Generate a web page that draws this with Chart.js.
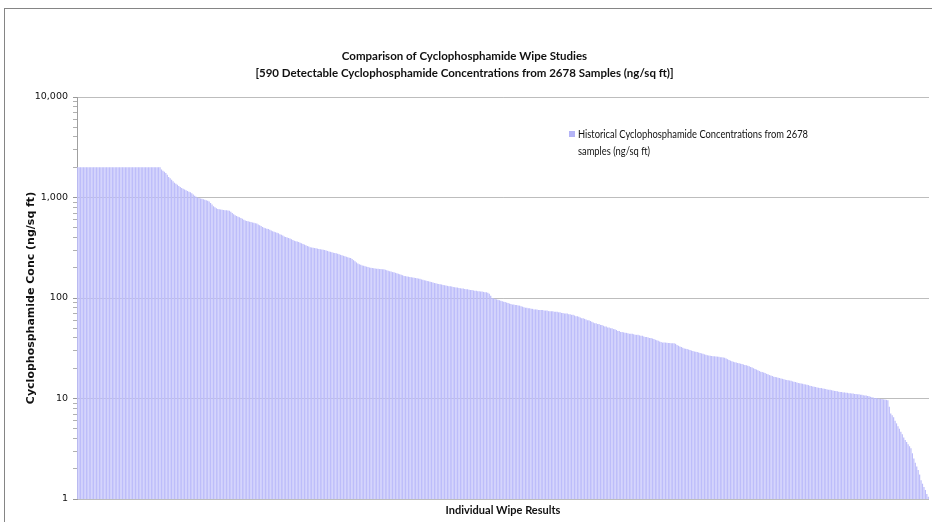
<!DOCTYPE html>
<html><head><meta charset="utf-8">
<script src="https://cdn.jsdelivr.net/npm/chart.js@4.4.1/dist/chart.umd.min.js"></script>
<style>
html,body{margin:0;padding:0;background:#fff;overflow:hidden;}
#wrap{position:relative;width:932px;height:522px;}
#frame{position:absolute;left:4px;top:8px;width:1000px;height:600px;border-left:1px solid #858585;border-top:1px solid #858585;pointer-events:none;}
canvas{position:absolute;left:0;top:0;}
</style></head><body>
<div id="wrap"><canvas id="c" width="932" height="522"></canvas><div id="frame"></div></div>
<script>
// ---- data ----
const titleLines = ['Comparison of Cyclophosphamide Wipe Studies', '[590 Detectable Cyclophosphamide Concentrations from 2678 Samples (ng/sq ft)]'];
const legendLines = ['Historical Cyclophosphamide Concentrations from 2678', 'samples (ng/sq ft)'];
const seriesName = legendLines.join(' ');
const xTitle = 'Individual Wipe Results';
const yTitle = 'Cyclophosphamide Conc (ng/sq ft)';
const tickValues = [1, 10, 100, 1000, 10000];
const tickLabels = ['1', '10', '100', '1,000', '10,000'];
const values = [
2000,2000,2000,2000,2000,2000,2000,2000,2000,2000,
2000,2000,2000,2000,2000,2000,2000,2000,2000,2000,
2000,2000,2000,2000,2000,2000,2000,2000,2000,2000,
2000,2000,2000,2000,2000,2000,2000,2000,2000,2000,
2000,2000,2000,2000,2000,2000,2000,2000,2000,2000,
2000,2000,2000,2000,2000,2000,2000,2000,
1900,1850,1800, 1750,1680,1600, 1550,1500,1450,1400, 1370,1340,1300,1270,1240,
1220,1200,1180,1160,1140, 1130,1100,1070,1040,1020, 1000,990,980,970,960,950,940,
930,910,880,850,820,800,780, 770,765,760,755,750,748,745,742, 740,720,700,680,665,655,
645,635,625,615,600,590,585, 580,575,570,565,560,555, 550,540,530,520,510,500,495,
490,485,478,470,462,455,450, 445,440,432,425,418,410,405, 400,395,390,385,378,372,368,
365,360,355,350,345,340,335,330,325, 320,318,316,314,312,310,308,306,304,302,
300,297,294,291,288,285,282,280,278, 275,272,269,266,263,260,257,254,252,
250,245,238,232,226, 220,217,214,211,209,207,205,203,201, 200,199,198,197,196,195,194,194,193,
193,191,189,187,185,183,181, 180,178,176,174,172,170,168, 166,165,164,163,162,161,160,159,158,
157,156,155,153,152,150,149, 148,147,145,144,143,141,140, 139,138,137,136,135,134,133,132,131,
131,130,129,128,127,127,126,125,124,124, 123,122,122,121,120,120,119,118,118,
117,117,116,116,115,114,114, 113,110,105, 100,99,98,97,96,95, 94,93,92,91,90,89,88,
87,86,86,85,85,84,84, 83,82,81,80,80,79,79, 78,78,77,77,77,76,76, 76,76,75,75,75,74,74,
74,74,73,73,73,72,72,71,71,70,70,70,69, 69,68,68,67,66,66,65,64,63,63,
62,61,60,60,59,58,57,56,56, 55,55,54,54,53,52,52,51,51, 50,50,49,49,48,47,47,46,46,
45.5,45,45,44.5,44,44,44,43.5,43,43, 43,42.5,42,42,41.5,41,41,40.5,40,
40,39.5,39,38.5,38,37.5,37,36.5,36, 36,36,35.8,35.7,35.6,35.5,35.5, 35.5,35,34,33.5,33,32.5,32,
31.5,31.2,31,30.7,30.4,30,29.7,29.4,29.2, 29,28.7,28.4,28.1,27.8,27.5,27.2,27,26.8,
26.6,26.5,26.4,26.3,26.2,26.1,26,25.8,25.7,25.6, 25.5,25,24.6,24.2,23.8,23.5,23.2,
23,22.8,22.6,22.4,22.2,22,21.8,21.6,21.4, 21.2,20.9,20.6,20.3,20,19.7,19.4,19.1,18.8,
18.5,18.3,18.1,17.9,17.6,17.4,17.1,16.9,16.7, 16.5,16.4,16.3,16.1,16,15.8,15.7,15.5,15.4,
15.3,15.2,15.1,15,14.8,14.7,14.6,14.4,14.3,14.2, 14.1,14,13.9,13.8,13.7,13.6,13.4,13.3,13.2,
13.1,13,12.9,12.8,12.7,12.7,12.6,12.5,12.4, 12.3,12.2,12.2,12.1,12,11.9,11.9,11.8,11.7,
11.6,11.6,11.5,11.5,11.4,11.4,11.3,11.3,11.2,11.2, 11.1,11.1,11,11,10.9,10.9,10.8,10.7,10.7,
10.6,10.5,10.4,10.3,10.2,10.1,10.1, 10,10,9.9,9.9,9.8,9.8,9.7,
9.6,8.3, 7.1,6.8, 6.5,6, 5.66,5.3,5, 4.67,4.4,4.1, 3.86,3.7,3.5,3.35, 3.2,2.85,
2.53,2.3,2.1, 1.94,1.75, 1.54,1.42,1.32, 1.23,1.12, 1.05
];
const categories = values.map((_, i) => String(i + 1));

// ---- styles ----
const barColor = '#bdbdfa';
const gridColor = 'rgba(0,0,0,0.26)';

const legendPlugin = {
  id: 'boxLegend',
  afterDraw(chart) {
    const ctx = chart.ctx;
    ctx.save();
    ctx.fillStyle = '#b4b4f6';
    ctx.fillRect(569, 131, 6, 6);
    ctx.fillStyle = '#111';
    ctx.font = '11px Lato';
    ctx.textBaseline = 'middle';
    const w = ctx.measureText(legendLines[0]).width;
    const sx = 230 / w;
    ctx.translate(578, 0);
    ctx.scale(sx, 1);
    legendLines.forEach((t, i) => ctx.fillText(t, 0, 134 + i * 17));
    ctx.restore();
  }
};

new Chart(document.getElementById('c'), {
  type: 'bar',
  data: {
    labels: categories,
    datasets: [{
      label: seriesName,
      data: values,
      backgroundColor: barColor,
      borderWidth: 0,
      barPercentage: 0.85,
      categoryPercentage: 1
    }]
  },
  options: {
    responsive: false,
    animation: false,
    layout: { padding: { top: 0, right: 3, bottom: 0, left: 0 } },
    plugins: {
      legend: { display: false },
      tooltip: { enabled: false },
      title: {
        display: true,
        text: titleLines,
        color: '#111',
        font: { family: 'Lato', weight: 'bold', size: 11.5, lineHeight: '17px' },
        padding: { top: 48, bottom: 15 }
      }
    },
    scales: {
      x: {
        grid: { display: false },
        ticks: { display: false },
        border: { display: false },
        title: {
          display: true, text: xTitle, color: '#111',
          font: { family: 'Lato', weight: 'bold', size: 11 },
          padding: { top: 0, bottom: 5 }
        },
        afterFit: s => { s.height = 23; }
      },
      y: {
        type: 'logarithmic',
        min: 1, max: 10000,
        z: 1,
        afterBuildTicks: s => {
          const t = [];
          for (let j = 0; j < tickValues.length - 1; j++) {
            for (let k = 1; k < 10; k++) t.push({ value: k * tickValues[j] });
          }
          t.push({ value: tickValues[tickValues.length - 1] });
          s.ticks = t;
        },
        ticks: {
          autoSkip: false,
          padding: 5,
          color: '#111',
          font: { family: 'DejaVu Sans', size: 9.5 },
          callback: v => { const i = tickValues.indexOf(v); return i >= 0 ? tickLabels[i] : ''; }
        },
        grid: {
          color: c => (c.tick && tickValues.includes(c.tick.value)) ? gridColor : 'rgba(0,0,0,0)',
          tickColor: c => (c.tick && tickValues.includes(c.tick.value)) ? '#999' : '#b0b0b0',
          tickLength: 4,
          drawTicks: true
        },
        border: { color: '#a0a0a0' },
        title: {
          display: true, text: yTitle, color: '#111',
          font: { family: 'DejaVu Sans', weight: 'bold', size: 11 },
          padding: { top: 25, bottom: 0 }
        },
        afterFit: s => { s.width = 77; }
      }
    }
  },
  plugins: [legendPlugin]
});
</script>
</body></html>
